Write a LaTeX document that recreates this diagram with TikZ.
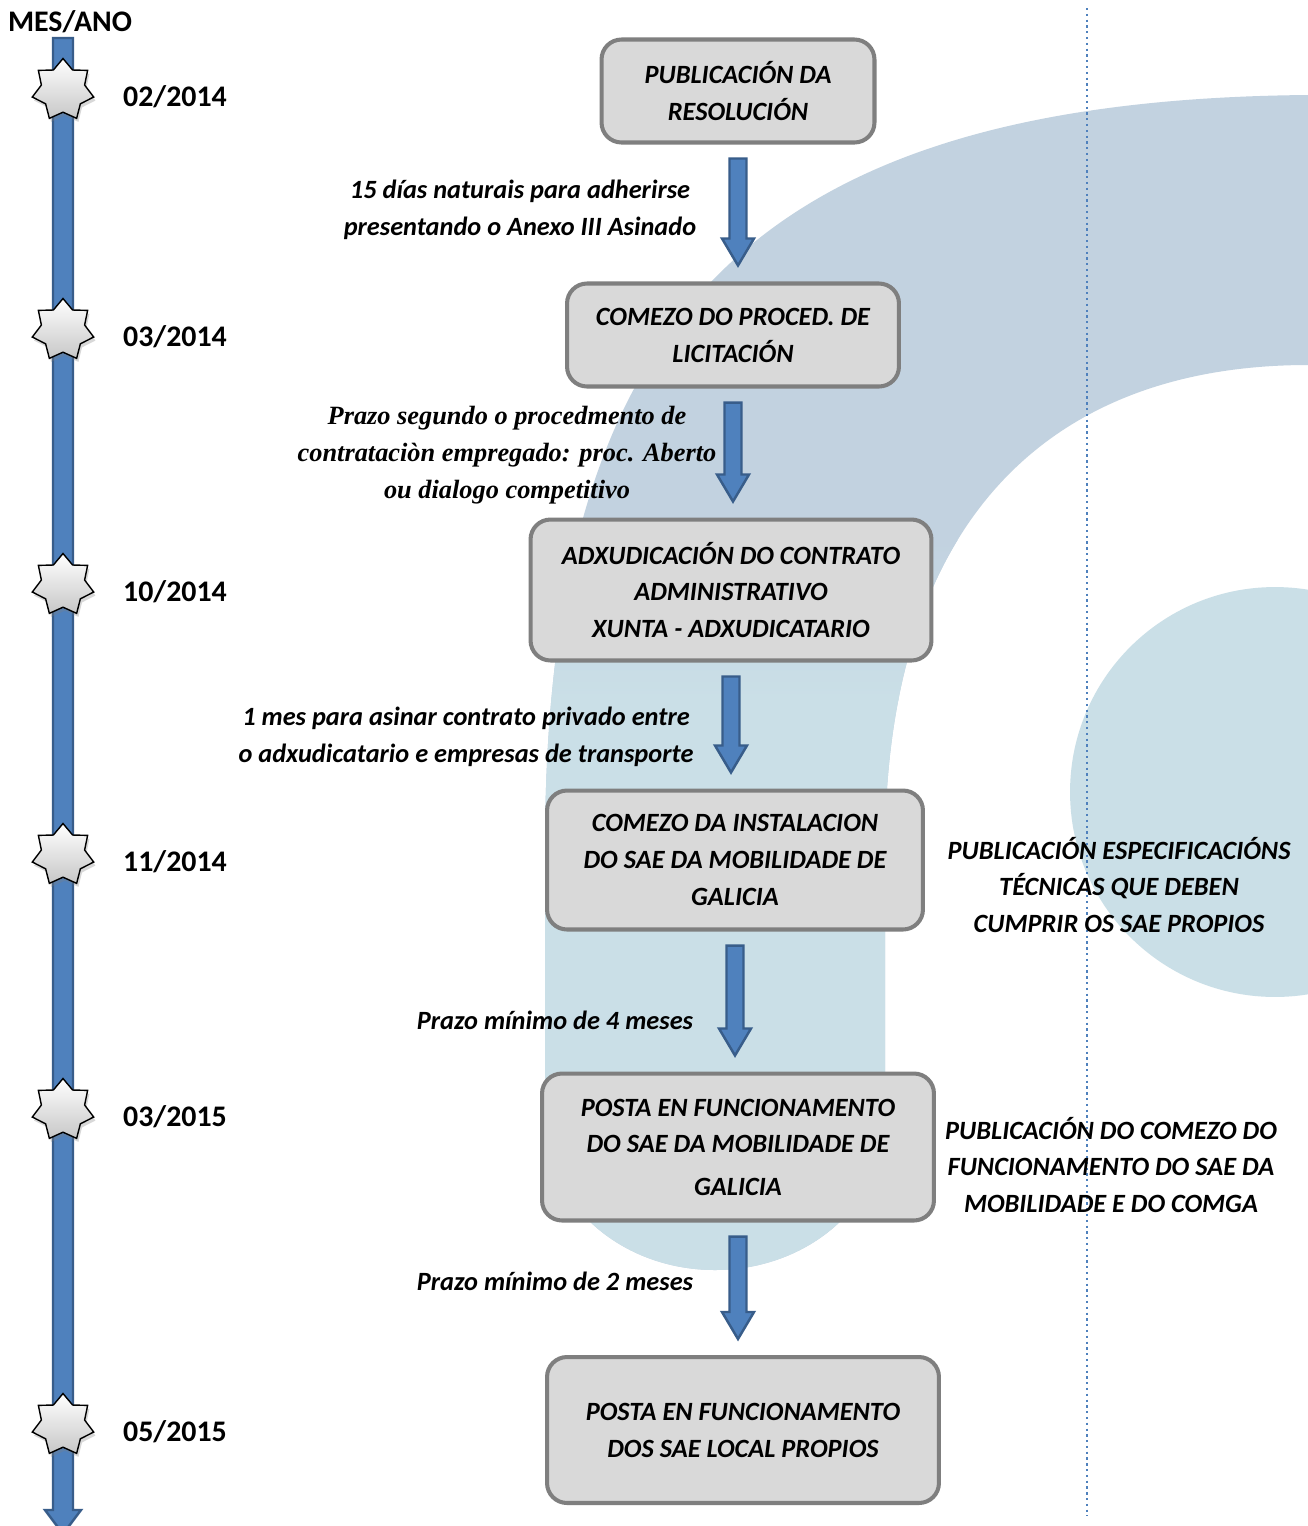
\documentclass[tikz,border=0pt]{standalone}
\usepackage{fontspec}
\setmainfont{Carlito}
\newfontfamily\serifnote{Liberation Serif}
\usetikzlibrary{shapes.geometric,calc,shadows}
\definecolor{ringblue}{RGB}{194,210,224}
\definecolor{waterblue}{RGB}{202,223,231}
\definecolor{boxfill}{RGB}{217,217,217}
\definecolor{boxedge}{RGB}{127,127,127}
\definecolor{arrowfill}{RGB}{79,129,189}
\definecolor{arrowedge}{RGB}{56,93,138}
\definecolor{dotblue}{RGB}{79,129,189}

\begin{document}
\begin{tikzpicture}
        [x=0.02cm, y=-0.02cm,
        stage/.style={draw=boxedge, line width=2.3pt, fill=boxfill, rounded corners=0.4cm, align=center, inner sep=0pt, font=\bfseries\itshape\fontsize{15}{21}\selectfont},
        datestar/.style={star, star points=7, star point ratio=1.42, draw=black, line width=0.8pt, top color=white, bottom color=black!22, minimum size=1.26cm, inner sep=0pt, drop shadow={opacity=.3, shadow xshift=1pt, shadow yshift=-2pt}},
        datelbl/.style={font=\bfseries\fontsize{17}{20}\selectfont},
        note/.style={align=center, font=\bfseries\itshape\fontsize{15}{21}\selectfont},
        flow/.style={draw=arrowedge, line width=1.4pt, fill=arrowfill, line join=miter}]

        \clip [use as bounding box] (0,0) rectangle (1308,1526);
        \fill [white] (0,0) rectangle (1308,1526);

        % background
        \fill [ringblue] (1308,95) .. controls (740,100) and (545,330) .. (545,850) -- (545,1120)
            .. controls (545,1203) and (621,1270) .. (715,1270) .. controls (809,1270) and (885,1203) .. (885,1120)
            -- (885,850) .. controls (885,520) and (1050,365) .. (1308,365) -- cycle;
        \begin{scope}
            \clip (1308,95) .. controls (740,100) and (545,330) .. (545,850) -- (545,1120)
                .. controls (545,1203) and (621,1270) .. (715,1270) .. controls (809,1270) and (885,1203) .. (885,1120)
                -- (885,850) .. controls (885,520) and (1050,365) .. (1308,365) -- cycle;
            \shade [top color=ringblue, bottom color=waterblue] (500,540) rectangle (1000,700);
            \fill [waterblue] (500,699) rectangle (1000,1300);
        \end{scope}
        \fill [waterblue] (1275,792) circle [radius=4.1cm];

        \draw [dotblue, dotted, line width=1.3pt] (1087,8) -- (1087,1516);

        % timeline
        \node [datelbl] (head) at (70,22) {MES/ANO};
        \coordinate (tltop) at (63,38);
        \coordinate (tlend) at (63,1534);
        \draw [flow] ($(tltop)+(-10,0)$) -- ($(tltop)+(10,0)$) -- ($(tlend)+(10,-24)$) -- ($(tlend)+(18,-24)$)
            -- (tlend) -- ($(tlend)+(-18,-24)$) -- ($(tlend)+(-10,-24)$) -- cycle;

        \foreach \y/\m/\yr [count=\i] in {90/02/2014, 330/03/2014, 585/10/2014, 855/11/2014, 1110/03/2015, 1425/05/2015} {
            \node [datestar] (star\i) at (63,\y) {};
            \node [datelbl] (date\i) at (175,\y+7) {\m/\yr};
        }

        % stages
        \node [stage, minimum width=5.46cm, minimum height=2.06cm] (pub) at (738,91) {PUBLICACIÓN DA\\RESOLUCIÓN};
        \node [stage, minimum width=6.64cm, minimum height=2.06cm] (lic) at (733,335) {COMEZO DO PROCED. DE\\LICITACIÓN};
        \node [stage, minimum width=8.02cm, minimum height=2.82cm] (adx) at (731,590) {ADXUDICACIÓN DO CONTRATO\\ADMINISTRATIVO\\XUNTA - ADXUDICATARIO};
        \node [stage, minimum width=7.52cm, minimum height=2.78cm] (ins) at (735,860) {COMEZO DA INSTALACION\\DO SAE DA MOBILIDADE DE\\GALICIA};
        \node [stage, minimum width=7.84cm, minimum height=2.94cm] (fun) at (738,1147) {POSTA EN FUNCIONAMENTO\\DO SAE DA MOBILIDADE DE\\[3pt]GALICIA};
        \node [stage, minimum width=7.84cm, minimum height=2.92cm] (loc) at (743,1430) {POSTA EN FUNCIONAMENTO\\DOS SAE LOCAL PROPIOS};

        \foreach \a/\b in {pub/lic, lic/adx, adx/ins, ins/fun, fun/loc}
            \draw [flow] ($(\a.south)+(-8.5,14)$) -- ($(\a.south)+(8.5,14)$) -- ($(\a.south |- \b.north)+(8.5,-43)$)
                -- ($(\a.south |- \b.north)+(16,-43)$) -- ($(\a.south |- \b.north)+(0,-16)$)
                -- ($(\a.south |- \b.north)+(-16,-43)$) -- ($(\a.south |- \b.north)+(-8.5,-43)$) -- cycle;

        % notes
        \node [note] (n1) at (520,210) {15 días naturais para adherirse\\presentando o Anexo III Asinado};
        \node [note, font=\serifnote\bfseries\itshape\fontsize{15}{21}\selectfont] (n2) at (507,455) {Prazo segundo o procedmento de\\contrataciòn empregado: proc. Aberto\\ou dialogo competitivo};
        \node [note] (n3) at (466,737) {1 mes para asinar contrato privado entre\\o adxudicatario e empresas de transporte};
        \node [note] (n4) at (555,1020) {Prazo mínimo de 4 meses};
        \node [note] (n5) at (555,1281) {Prazo mínimo de 2 meses};
        \node [note] (n6) at (1119,885) {PUBLICACIÓN ESPECIFICACIÓNS\\TÉCNICAS QUE DEBEN\\CUMPRIR OS SAE PROPIOS};
        \node [note] (n7) at (1111,1165) {PUBLICACIÓN DO COMEZO DO\\FUNCIONAMENTO DO SAE DA\\MOBILIDADE E DO COMGA};
    \end{tikzpicture}
\end{document}
